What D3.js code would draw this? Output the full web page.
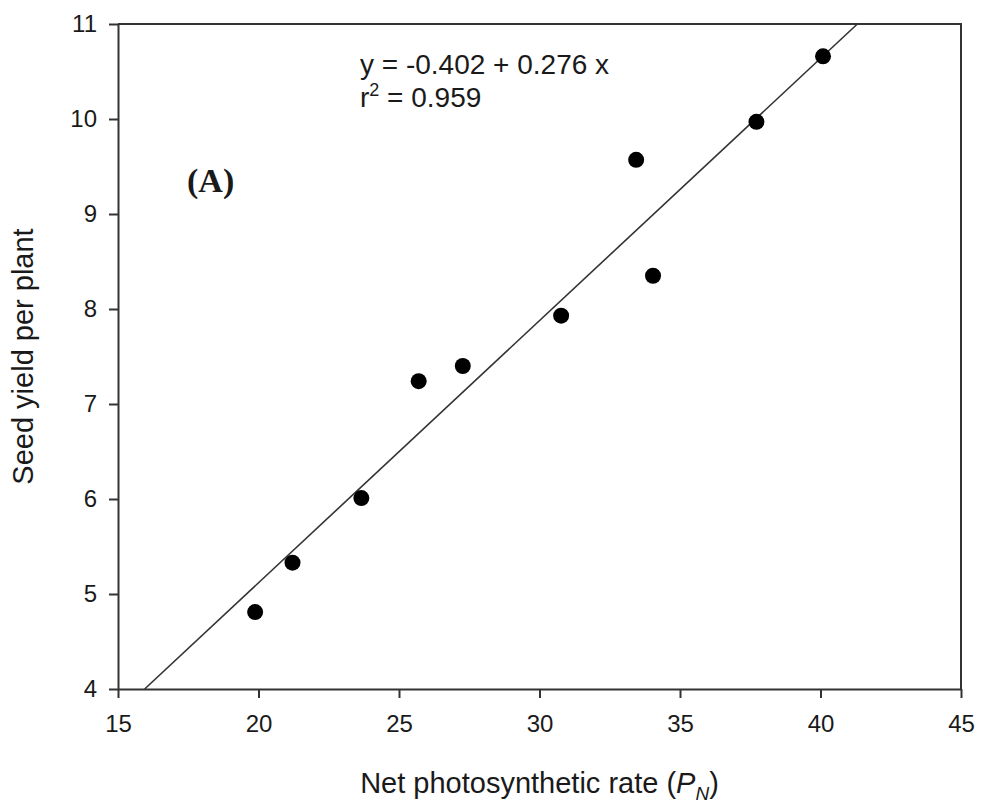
<!DOCTYPE html>
<html>
<head>
<meta charset="utf-8">
<script src="https://cdn.jsdelivr.net/npm/d3@7/dist/d3.min.js"></script>
<style>
  body { margin: 0; background: #fff; }
  text { font-family: "Liberation Sans", Arial, sans-serif; fill: #1a1a1a; }
</style>
</head>
<body>
<div id="graphic"></div>
<script>
// data
const pnValues    = [19.88, 21.21, 23.66, 25.70, 27.27, 30.77, 33.44, 34.04, 37.72, 40.09];
const yieldValues = [4.81, 5.33, 6.01, 7.24, 7.40, 7.93, 9.57, 8.35, 9.97, 10.66];
const xTicks = [15, 20, 25, 30, 35, 40, 45];
const yTicks = [4, 5, 6, 7, 8, 9, 10, 11];
const fitIntercept = -0.402;
const fitSlope = 0.276;
const fitR2 = "0.959";

const width = 981;
const height = 807;
const margin = { top: 24, right: 20, bottom: 118, left: 118 };
const innerW = width - margin.left - margin.right;
const innerH = height - margin.top - margin.bottom;

const svg = d3.select("#graphic").append("svg")
  .attr("width", width)
  .attr("height", height)
  .style("display", "block");

const g = svg.append("g")
  .attr("transform", `translate(${margin.left},${margin.top})`);

const x = d3.scaleLinear().domain([15, 45]).range([0, innerW]);
const y = d3.scaleLinear().domain([4, 11]).range([innerH, 0]);

// frame (top + right)
g.append("path")
  .attr("d", `M0,0H${innerW}V${innerH}`)
  .attr("fill", "none")
  .attr("stroke", "#333")
  .attr("stroke-width", 2);

const gx = g.append("g")
  .attr("transform", `translate(0,${innerH})`)
  .call(d3.axisBottom(x).tickValues(xTicks).tickFormat(d3.format("d"))
    .tickSize(9).tickPadding(17).tickSizeOuter(0));

const gy = g.append("g")
  .call(d3.axisLeft(y).tickValues(yTicks).tickFormat(d3.format("d"))
    .tickSize(9).tickPadding(12).tickSizeOuter(0));

[gx, gy].forEach(a => {
  a.select(".domain").attr("stroke", "#333").attr("stroke-width", 2);
  a.selectAll(".tick line").attr("stroke", "#333").attr("stroke-width", 2);
  a.selectAll(".tick text")
    .attr("font-size", 24)
    .attr("font-family", "Liberation Sans, Arial, sans-serif")
    .attr("fill", "#1a1a1a");
});

// regression line, clipped to the plot box
const xa = Math.max(15, (4 - fitIntercept) / fitSlope);
const xb = Math.min(45, (11 - fitIntercept) / fitSlope);
g.append("path")
  .datum([xa, xb])
  .attr("fill", "none")
  .attr("stroke", "#333")
  .attr("stroke-width", 1.6)
  .attr("d", d3.line().x(d => x(d)).y(d => y(fitIntercept + fitSlope * d)));

// points
g.selectAll("circle.pt")
  .data(pnValues.map((v, i) => ({ pn: v, yld: yieldValues[i] })))
  .join("circle")
  .attr("class", "pt")
  .attr("cx", d => x(d.pn))
  .attr("cy", d => y(d.yld))
  .attr("r", 8)
  .attr("fill", "#000");

// equation
svg.append("text")
  .attr("x", 360)
  .attr("y", 74)
  .attr("font-size", 28)
  .text(`y = ${fitIntercept} + ${fitSlope} x`);

const r2 = svg.append("text")
  .attr("x", 360)
  .attr("y", 107)
  .attr("font-size", 28);
r2.append("tspan").text("r");
r2.append("tspan").attr("font-size", 18).attr("dy", -11).text("2");
r2.append("tspan").attr("dy", 11).text(` = ${fitR2}`);

// panel tag
svg.append("text")
  .attr("x", 187)
  .attr("y", 192)
  .attr("font-size", 34)
  .attr("font-weight", 700)
  .style("font-family", "'Liberation Serif', 'Times New Roman', serif")
  .text("(A)");

// axis titles
const xt = svg.append("text")
  .attr("x", margin.left + innerW / 2)
  .attr("y", 793)
  .attr("text-anchor", "middle")
  .attr("font-size", 29);
xt.append("tspan").text("Net photosynthetic rate (");
xt.append("tspan").attr("font-style", "italic").text("P");
xt.append("tspan").attr("font-style", "italic").attr("font-size", 19).attr("dy", 7).text("N");
xt.append("tspan").attr("dy", -7).text(")");

svg.append("text")
  .attr("transform", `translate(33,${margin.top + innerH / 2}) rotate(-90)`)
  .attr("text-anchor", "middle")
  .attr("font-size", 29)
  .text("Seed yield per plant");
</script>
</body>
</html>
